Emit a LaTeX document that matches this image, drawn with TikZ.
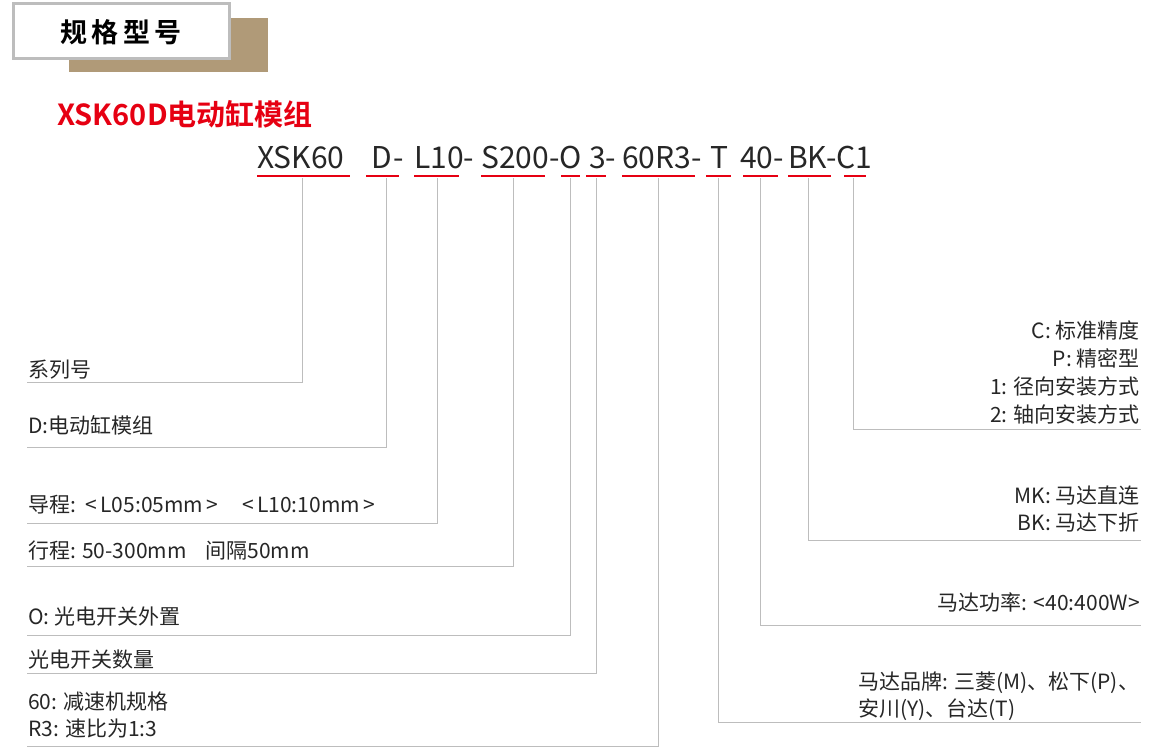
\documentclass[tikz,border=0pt]{standalone}
\usepackage{fontspec}
\setmainfont{Noto Sans CJK SC}
\newfontfamily\cjkb{Noto Sans CJK SC Bold}
\definecolor{tan}{HTML}{B09A78}
\definecolor{redc}{HTML}{E60012}
\definecolor{lg}{HTML}{BDBDBD}
\begin{document}
\begin{tikzpicture}[x=1pt,y=-1pt,
  code/.style={anchor=base west,inner sep=0,font=\fontsize{30}{30}\selectfont,text=black!85},
  desc/.style={anchor=base west,inner sep=0,font=\fontsize{21}{24}\selectfont,text=black!85},
  rdesc/.style={anchor=base east,inner sep=0,font=\fontsize{21}{24}\selectfont,text=black!85,align=right},
  uline/.style={redc,line width=2.2pt},
  lead/.style={lg,line width=1pt}]
\useasboundingbox (0,0) rectangle (1170,749);
\fill[tan] (69,18) rectangle (268,72);
\draw[lg,line width=3pt,fill=white] (13,4) rectangle (229,59);
\node[inner sep=0,font=\cjkb\fontsize{27}{27}\selectfont] (hdr) at (121,32) {规\,格\,型\,号};
\node[anchor=base west,inner sep=0,text=redc,font=\cjkb\fontsize{29}{29}\selectfont] (title) at (57,126) {XSK60D电动缸模组};
% code pieces
\node[code] (c1) at (257,168) {XSK60};
\node[code] (c2) at (371,168) {D};
\node[code] (c2b) at (393,168) {-};
\node[code] (c3) at (414,168) {L10-};
\node[code] (c4) at (481,168) {S200-O};
\node[code] (c5) at (589,168) {3-};
\node[code] (c6) at (622,168) {60R3-};
\node[code] (c7) at (710,168) {T};
\node[code] (c8) at (740,168) {40-};
\node[code] (c9) at (788,168) {BK-C1};
% underlines
\foreach \a/\b in {257/350,366/399,414/459,481/545,561/580,586/606,622/695,706/731,743/778,788/831,844/866}
  \draw[uline] (\a,176) -- (\b,176);
% left leaders
\foreach \x/\y in {302/382,386/447,437/523,513/566,570/635,596/673,658/746}
  \draw[lead] (\x,178) -- (\x,\y) -- (27,\y);
% right leaders
\foreach \x/\y in {853/429,808/540,760/625,718/722}
  \draw[lead] (\x,178) -- (\x,\y) -- (1141,\y);
% left texts
\node[desc] (t1) at (28,377) {系列号};
\node[desc] (t2) at (28,433) {D:电动缸模组};
\node[desc] (t3) at (28,512) {导程:\ \ <\,L05:05mm\,>\ \ \ \ \ <\,L10:10mm\,>};
\node[desc] (t4) at (28,558) {行程: 50-300mm\ \ \ \ 间隔50mm};
\node[desc] (t5) at (28,624) {O: 光电开关外置};
\node[desc] (t6) at (28,667) {光电开关数量};
\node[desc] (t7) at (28,709) {60: 减速机规格};
\node[desc] (t8) at (28,736) {R3: 速比为1:3};
% right texts
\node[rdesc] (r1) at (1140,338) {C: 标准精度};
\node[rdesc] (r2) at (1140,366) {P: 精密型};
\node[rdesc] (r3) at (1140,394) {1: 径向安装方式};
\node[rdesc] (r4) at (1140,422) {2: 轴向安装方式};
\node[rdesc] (r5) at (1140,503) {MK: 马达直连};
\node[rdesc] (r6) at (1140,530) {BK: 马达下折};
\node[rdesc] (r7) at (1140,610) {马达功率: <40:400W>};
\node[desc] (r8) at (858,689) {马达品牌: 三菱(M)、松下(P)、};
\node[desc] (r9) at (858,716) {安川(Y)、台达(T)};
\end{tikzpicture}
\end{document}
